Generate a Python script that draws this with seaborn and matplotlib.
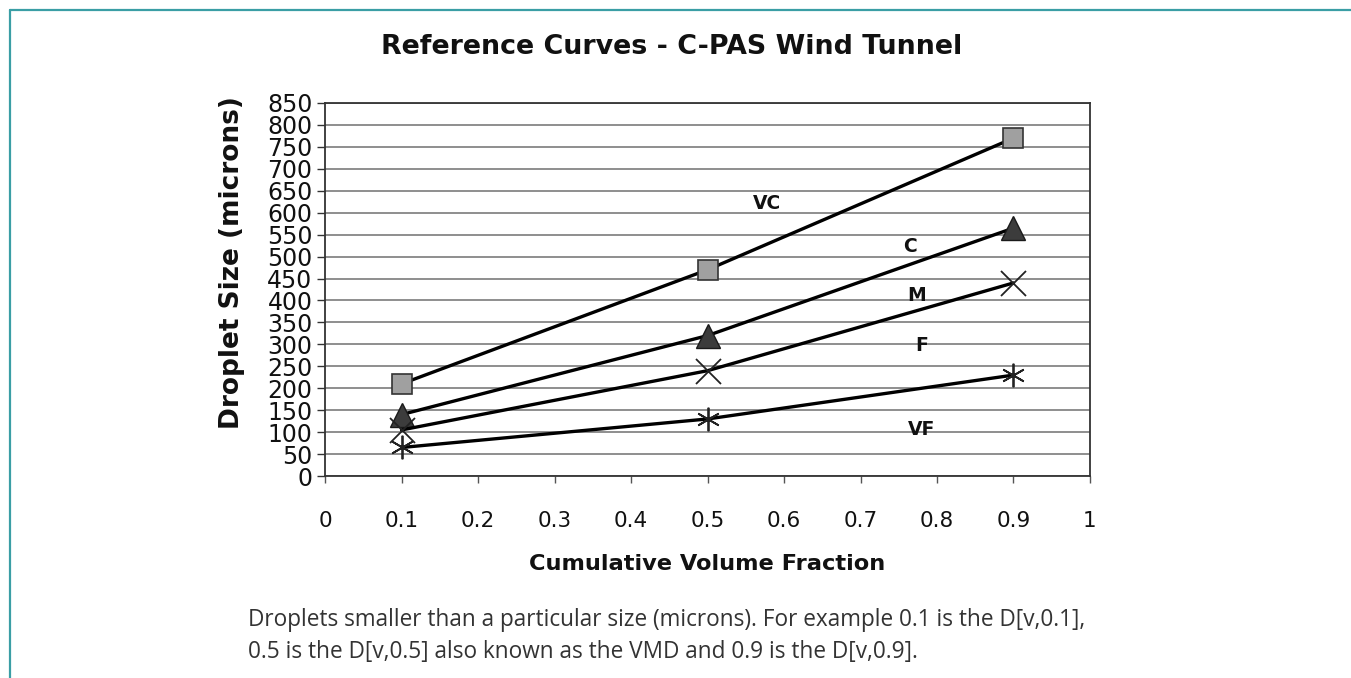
import matplotlib
matplotlib.use("Agg")
import matplotlib.pyplot as plt
import seaborn as sns
import pandas as pd
from matplotlib.lines import Line2D

# Cumulative volume fraction points and droplet sizes (microns) for each reference curve
fractions = [0.1, 0.5, 0.9]
vc_curve = [210, 470, 770]
c_curve = [140, 320, 565]
m_curve = [105, 240, 440]
f_curve = [65, 130, 230]

# Category labels placed between the curves
class_names = ["VC", "C", "M", "F", "VF"]
class_x = [0.578, 0.765, 0.774, 0.780, 0.780]
class_y = [622, 522, 412, 298, 105]

y_ticks = list(range(0, 851, 50))
x_ticks = [0, 0.1, 0.2, 0.3, 0.4, 0.5, 0.6, 0.7, 0.8, 0.9, 1]
x_tick_labels = ["0", "0.1", "0.2", "0.3", "0.4", "0.5", "0.6", "0.7", "0.8", "0.9", "1"]

sns.set_theme(style="white")
plt.rcParams["font.family"] = ["DejaVu Sans"]

fig = plt.figure(figsize=(13.51, 6.78), dpi=100)
ax = fig.add_axes([0.2406, 0.2979, 0.5662, 0.5502])

series = [
    (vc_curve, dict(marker="s", markersize=14, markerfacecolor="#a0a0a0", markeredgecolor="#333333", markeredgewidth=1.2)),
    (c_curve, dict(marker="^", markersize=17, markerfacecolor="#3c3c3c", markeredgecolor="#1a1a1a", markeredgewidth=1.0)),
    (m_curve, dict(marker="x", markersize=18, markeredgecolor="#222222", markeredgewidth=1.3)),
    (f_curve, dict(marker=(6, 2, 0), markersize=17, markeredgecolor="#222222", markeredgewidth=1.3)),
]

for values, style in series:
    df = pd.DataFrame({"fraction": fractions, "size": values})
    sns.lineplot(data=df, x="fraction", y="size", ax=ax, color="black",
                 linewidth=2.4, zorder=3, **style)

for name, cx, cy in zip(class_names, class_x, class_y):
    ax.text(cx, cy, name, ha="center", va="center", fontsize=13.5,
            fontweight="bold", color="#111111", zorder=4)

ax.set_xlim(0, 1)
ax.set_ylim(0, 850)
ax.set_yticks(y_ticks)
ax.set_yticklabels([str(v) for v in y_ticks], fontsize=17, color="#111111")
ax.set_xticks(x_ticks)
ax.set_xticklabels(x_tick_labels, fontsize=15.5, color="#111111")
ax.yaxis.grid(True, color="#7c7c7c", linewidth=1.2)
ax.xaxis.grid(False)
ax.tick_params(axis="y", direction="out", length=6, width=1, color="#333333", pad=3, left=True)
ax.tick_params(axis="x", direction="out", length=5, width=1, color="#555555", pad=20, bottom=True)

for side in ["left", "right", "top", "bottom"]:
    ax.spines[side].set_visible(True)
    ax.spines[side].set_color("#333333")
    ax.spines[side].set_linewidth(1.3)

ax.set_xlabel("Cumulative Volume Fraction", fontsize=16.2, fontweight="bold",
              color="#111111")
ax.xaxis.set_label_coords(0.5, -0.208)
ax.set_ylabel("Droplet Size (microns)", fontsize=19, fontweight="bold",
              color="#111111")
ax.yaxis.set_label_coords(-0.105, 0.571)

fig.text(0.497, 0.931, "Reference Curves - C-PAS Wind Tunnel", ha="center", va="center",
         fontsize=19.4, fontweight="bold", color="#111111")

fig.text(0.1835, 0.085, "Droplets smaller than a particular size (microns). For example 0.1 is the D[v,0.1],",
         ha="left", va="center", fontsize=16.3, color="#333333", family=["Open Sans", "DejaVu Sans"])
fig.text(0.1835, 0.038, "0.5 is the D[v,0.5] also known as the VMD and 0.9 is the D[v,0.9].",
         ha="left", va="center", fontsize=16.3, color="#333333", family=["Open Sans", "DejaVu Sans"])

# Teal border lines along the top and left of the panel
teal = "#3a9ea5"
fig.add_artist(Line2D([10 / 1351, 1.0], [1 - 10 / 678, 1 - 10 / 678], color=teal,
                      linewidth=1.6, transform=fig.transFigure))
fig.add_artist(Line2D([10 / 1351, 10 / 1351], [0.0, 1 - 10 / 678], color=teal,
                      linewidth=1.6, transform=fig.transFigure))

fig.savefig("out.png", dpi=100, facecolor="white")
